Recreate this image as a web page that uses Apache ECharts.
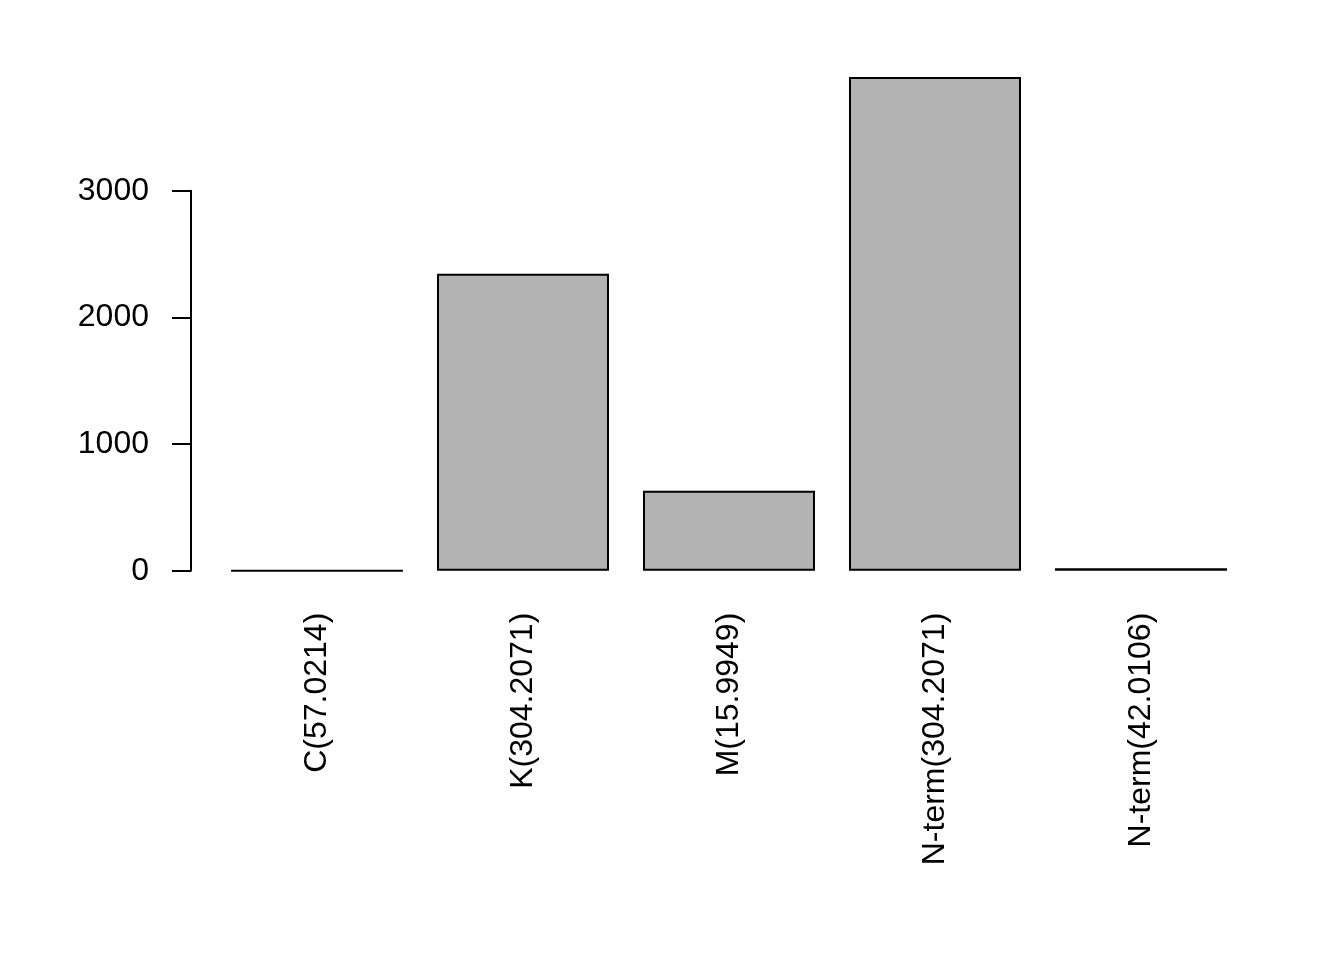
<!DOCTYPE html>
<html>
<head>
<meta charset="utf-8">
<script src="https://cdn.jsdelivr.net/npm/echarts@6/dist/echarts.min.js"></script>
<style>html,body{margin:0;padding:0;background:#fff;}#chart{width:1344px;height:960px;}</style>
</head>
<body>
<div id="chart"></div>
<script>
const categories = ['C(57.0214)', 'K(304.2071)', 'M(15.9949)', 'N-term(304.2071)', 'N-term(42.0106)'];
const counts = [1, 2346, 631, 3899, 20];
const yTicks = [0, 1000, 2000, 3000];

const FONT = 'Liberation Sans, Arial, Helvetica, sans-serif';
const chart = echarts.init(document.getElementById('chart'), null, {renderer: 'canvas'});
chart.setOption({
  backgroundColor: '#ffffff',
  animation: false,
  grid: [
    {left: 214, width: 1030, top: 64.33, bottom: 389.3},
    {left: 191, width: 1, top: 190.7, bottom: 389.3}
  ],
  xAxis: [
    {
      gridIndex: 0, type: 'category', data: categories,
      axisLine: {show: false}, axisTick: {show: false}, splitLine: {show: false},
      axisLabel: {rotate: 90, margin: 42, fontSize: 32, color: '#000', fontFamily: FONT, interval: 0}
    },
    {gridIndex: 1, type: 'value', show: false}
  ],
  yAxis: [
    {gridIndex: 0, type: 'value', min: 0, max: 4000, show: false},
    {
      gridIndex: 1, type: 'value', min: yTicks[0], max: yTicks[yTicks.length - 1], interval: 1000,
      axisLine: {show: true, lineStyle: {color: '#000', width: 2}},
      axisTick: {show: true, length: 19, lineStyle: {color: '#000', width: 2}},
      splitLine: {show: false},
      axisLabel: {margin: 42, fontSize: 32, color: '#000', fontFamily: FONT, formatter: v => String(v)}
    }
  ],
  series: [{
    type: 'bar', xAxisIndex: 0, yAxisIndex: 0, data: counts,
    barCategoryGap: '16.5%',
    itemStyle: {color: '#b3b3b3', borderColor: '#000', borderWidth: 2}
  }]
});
</script>
</body>
</html>
